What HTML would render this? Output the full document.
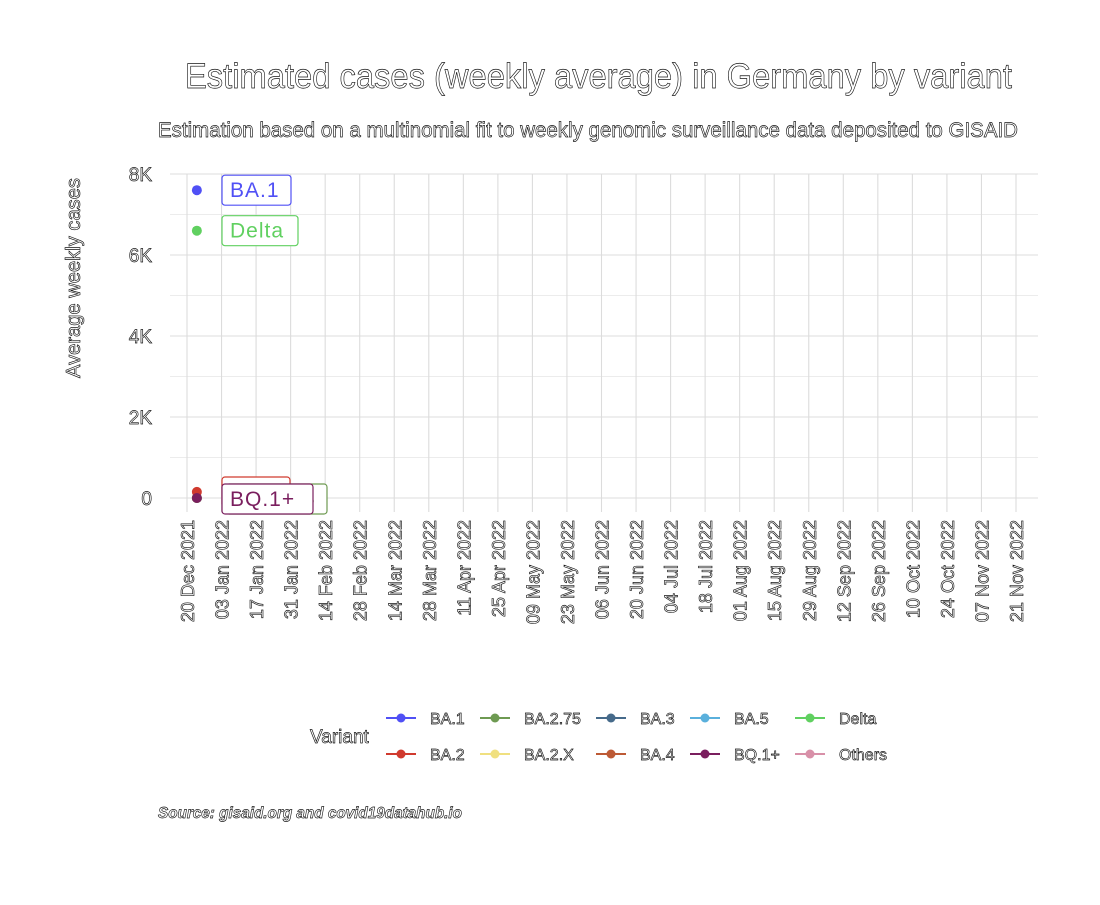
<!DOCTYPE html>
<html><head><meta charset="utf-8"><style>
body{margin:0;background:#fff;}
svg text{font-family:"Liberation Sans",sans-serif;}
.ol{fill:#fff;stroke:#111;stroke-width:0.65;}
</style></head><body>
<svg id="chart" width="1100" height="900" xmlns="http://www.w3.org/2000/svg">
<text class="ol" x="185" y="88" font-size="35" textLength="827" lengthAdjust="spacingAndGlyphs">Estimated cases (weekly average) in Germany by variant</text>
<text class="ol" x="158" y="137" font-size="21" textLength="860" lengthAdjust="spacingAndGlyphs">Estimation based on a multinomial fit to weekly genomic surveillance data deposited to GISAID</text>
<g id="grid"></g><g id="axes"></g><g id="marks"></g><g id="legend"></g>
<text class="ol" x="0" y="0" font-size="20" transform="translate(80,378) rotate(-90)" textLength="200" lengthAdjust="spacingAndGlyphs">Average weekly cases</text>
<text class="ol" x="158" y="818" font-size="16" font-style="italic" font-weight="bold" textLength="304" lengthAdjust="spacingAndGlyphs">Source: gisaid.org and covid19datahub.io</text>
</svg>
<script>
const yTicks=[0,2000,4000,6000,8000];
const yTickLabels=["0","2K","4K","6K","8K"];
const xTickLabels=["20 Dec 2021","03 Jan 2022","17 Jan 2022","31 Jan 2022","14 Feb 2022","28 Feb 2022","14 Mar 2022","28 Mar 2022","11 Apr 2022","25 Apr 2022","09 May 2022","23 May 2022","06 Jun 2022","20 Jun 2022","04 Jul 2022","18 Jul 2022","01 Aug 2022","15 Aug 2022","29 Aug 2022","12 Sep 2022","26 Sep 2022","10 Oct 2022","24 Oct 2022","07 Nov 2022","21 Nov 2022"];
const variants=["BA.1","BA.2","BA.2.75","BA.2.X","BA.3","BA.4","BA.5","BQ.1+","Delta","Others"];
const colors=["#5050f5","#d03a2e","#6e9a52","#f0e080","#466a8a","#bd5a35","#5ab0dc","#7a1e5e","#60d060","#d890a8"];
const caseValues=[7600,150,0,0,0,0,0,0,6600,0];
const pointDay=4; // days after 20 Dec 2021
const NS="http://www.w3.org/2000/svg";
function el(t,a,p){const e=document.createElementNS(NS,t);for(const k in a)e.setAttribute(k,a[k]);p.appendChild(e);return e;}
const X0=187,XPW=829/(48*7);
const xs=d=>X0+d*XPW;
const ys=v=>498-v*(324/8000);
const grid=document.getElementById('grid'),axes=document.getElementById('axes'),marks=document.getElementById('marks'),legend=document.getElementById('legend');
for(let v=1000;v<8000;v+=2000){const l=el('line',{x1:170,x2:1038,y1:ys(v),y2:ys(v),stroke:'#e6e6e6','stroke-width':0.8},grid);}
yTicks.forEach((v,i)=>{const l=el('line',{x1:170,x2:1038,y1:ys(v),y2:ys(v),stroke:'#dcdcdc','stroke-width':1.1},grid);
const t=el('text',{x:152,y:ys(v)+7,'text-anchor':'end','font-size':19,class:'ol'},axes);t.textContent=yTickLabels[i];});
xTickLabels.forEach((s,i)=>{const x=xs(i*14);const l=el('line',{x1:x,x2:x,y1:174,y2:512,stroke:'#dcdcdc','stroke-width':1.1},grid);
const t=el('text',{x:0,y:0,'text-anchor':'end','font-size':18,class:'ol',transform:`translate(${x+7},520) rotate(-90)`},axes);t.textContent=s;});
const order=[9,8,6,5,4,3,2,1,7,0];
order.forEach(i=>{const c=el('circle',{cx:xs(pointDay),cy:ys(caseValues[i]),r:5,fill:colors[i]},marks);});
function label(i,x,y,w,fs){const g=el('g',{},marks);
el('rect',{x:x,y:y,width:w,height:30,rx:3,fill:'#fff',stroke:colors[i],'stroke-width':1.2},g);
const t=el('text',{x:x+8,y:y+22,'font-size':fs||21,fill:colors[i],'letter-spacing':1,'font-family':'DejaVu Sans'},g);t.textContent=variants[i];}
label(0,222,ys(caseValues[0])-15,69);
label(8,222,ys(caseValues[8])-15,76);
label(1,222,477,68);
label(2,226,484,101);
label(7,222,484,91);
const cols=[[0,1],[2,3],[4,5],[6,7],[8,9]];const cx=[386,480,596,690,795];
const t0=el('text',{x:310,y:743,'font-size':19,class:'ol'},legend);t0.textContent='Variant';
cols.forEach((pair,ci)=>pair.forEach((vi,ri)=>{const y=718+ri*36;const g=el('g',{},legend);
el('line',{x1:cx[ci],x2:cx[ci]+30,y1:y,y2:y,stroke:colors[vi],'stroke-width':2},g);el('circle',{cx:cx[ci]+15,cy:y,r:4.5,fill:colors[vi]},g);
const t=el('text',{x:cx[ci]+44,y:y+6,'font-size':16,class:'ol'},g);t.textContent=variants[vi];}));
</script>
</body></html>
